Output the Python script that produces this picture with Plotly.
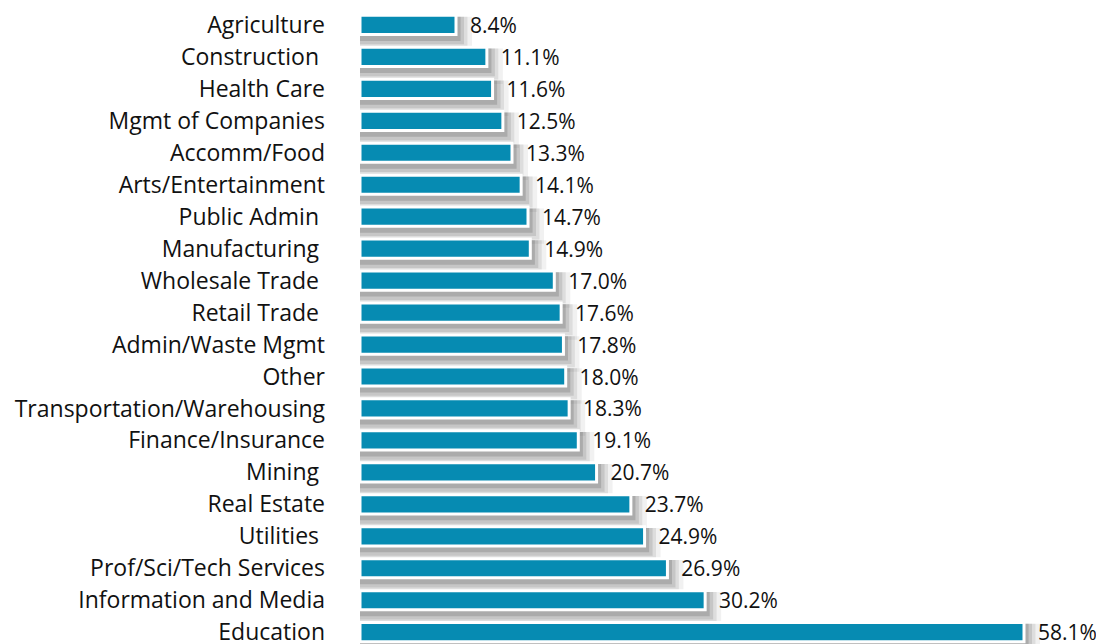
import plotly.graph_objects as go

industries = [
    "Agriculture", "Construction", "Health Care", "Mgmt of Companies", "Accomm/Food",
    "Arts/Entertainment", "Public Admin", "Manufacturing", "Wholesale Trade", "Retail Trade",
    "Admin/Waste Mgmt", "Other", "Transportation/Warehousing", "Finance/Insurance", "Mining",
    "Real Estate", "Utilities", "Prof/Sci/Tech Services", "Information and Media", "Education",
]
shares = [8.4, 11.1, 11.6, 12.5, 13.3, 14.1, 14.7, 14.9, 17.0, 17.6,
          17.8, 18.0, 18.3, 19.1, 20.7, 23.7, 24.9, 26.9, 30.2, 58.1]
# labels that carry a trailing blank in the original
padded = {"Construction", "Public Admin", "Manufacturing", "Wholesale Trade",
          "Retail Trade", "Mining", "Utilities"}

BAR = "#068bb2"
FONT = "'Open Sans', Lato, sans-serif"

fig = go.Figure()

# soft drop shadow: a few translucent grey layers behind each bar
for grow, alpha in [(1.4, 0.07), (1.0, 0.10), (0.7, 0.13), (0.4, 0.18)]:
    fig.add_trace(go.Bar(
        y=industries, x=[v + grow for v in shares], orientation="h",
        width=0.62 + grow * 0.35, offset=-0.26,
        marker=dict(color=f"rgba(50,50,50,{alpha})", line=dict(width=0)),
        hoverinfo="skip", showlegend=False,
    ))

fig.add_trace(go.Bar(
    y=industries, x=shares, orientation="h", width=0.6,
    marker=dict(color=BAR, line=dict(color="white", width=3)),
    text=[f"\u00a0\u00a0{v:.1f}%" for v in shares], textposition="outside",
    constraintext="none",
    textfont=dict(family=FONT, size=21, color="#111111"),
    cliponaxis=False, showlegend=False,
))

fig.update_layout(
    width=1104, height=644, barmode="overlay",
    margin=dict(l=352, r=0, t=0, b=0),
    plot_bgcolor="white", paper_bgcolor="white",
    font=dict(family=FONT, size=21, color="#111111"),
    xaxis=dict(range=[0, 65.8], visible=False),
    yaxis=dict(
        range=[19.62, -0.436], showgrid=False, zeroline=False, showline=False,
        ticks="", ticklabelstandoff=34,
        tickvals=industries,
        ticktext=[n + "\u00a0" if n in padded else n for n in industries],
        tickfont=dict(family=FONT, size=23, color="#111111"),
    ),
)

fig.write_html("out.html")
